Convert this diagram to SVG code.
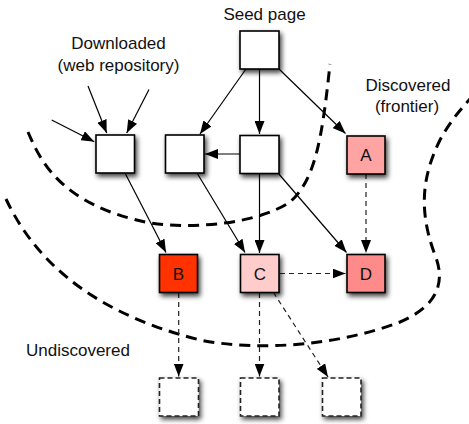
<svg xmlns="http://www.w3.org/2000/svg" width="469" height="424" viewBox="0 0 469 424">
<defs>
<filter id="sh" x="-30%" y="-30%" width="170%" height="170%">
<feDropShadow dx="2" dy="3" stdDeviation="2.5" flood-color="#000" flood-opacity="0.75"/>
</filter>
<marker id="ah" markerWidth="13" markerHeight="10" refX="13" refY="5" orient="auto" markerUnits="userSpaceOnUse">
<path d="M0,0 L13,5 L0,10 Z" fill="#000"/>
</marker>
</defs>
<style>
text{font-family:"Liberation Sans",Arial,sans-serif;font-size:17px;fill:#111}
.lbl{text-anchor:middle}
.box{stroke:#000;stroke-width:1.6}
.ghost{fill:#fff;stroke:#222;stroke-width:1.6;stroke-dasharray:5 3}
.solid{fill:none;stroke:#000;stroke-width:1.2}
.dash{fill:none;stroke:#222;stroke-width:1.2;stroke-dasharray:5 4}
.bound{fill:none;stroke:#000;stroke-width:3;stroke-dasharray:11 7}
</style>
<rect width="469" height="424" fill="#fff"/>
<g id="boundaries">
<path class="bound" d="M28,132 C40,160 60,205 150,223 C200,230 260,222 290,202 C315,180 322,140 330,64"/>
<path class="bound" d="M6,199 C30,250 80,310 200,340 C260,352 340,345 400,322 C440,305 445,280 435,255 C420,215 420,180 440,140 C448,125 458,112 470,99"/>
</g>
<g id="labels">
<text x="264.5" y="19.5" class="lbl">Seed page</text>
<text x="118.5" y="49" class="lbl">Downloaded</text>
<text x="118.5" y="70.5" class="lbl">(web repository)</text>
<text x="408" y="91" class="lbl">Discovered</text>
<text x="407" y="112" class="lbl">(frontier)</text>
<text x="26" y="356">Undiscovered</text>
</g>
<g id="connectors">
<line class="solid" x1="88" y1="86" x2="106.7" y2="133" marker-end="url(#ah)"/>
<line class="solid" x1="149" y1="89.5" x2="126.7" y2="133" marker-end="url(#ah)"/>
<line class="solid" x1="51.7" y1="120" x2="94.3" y2="141.7" marker-end="url(#ah)"/>
<line class="solid" x1="246" y1="69" x2="200" y2="134" marker-end="url(#ah)"/>
<line class="solid" x1="240" y1="154" x2="205" y2="154" marker-end="url(#ah)"/>
<line class="solid" x1="259.5" y1="69" x2="259.5" y2="134" marker-end="url(#ah)"/>
<line class="solid" x1="279" y1="69" x2="345.5" y2="133.5" marker-end="url(#ah)"/>
<line class="solid" x1="125" y1="173" x2="166" y2="252.5" marker-end="url(#ah)"/>
<line class="solid" x1="197" y1="173" x2="245" y2="252.5" marker-end="url(#ah)"/>
<line class="solid" x1="259.5" y1="174" x2="259.5" y2="253" marker-end="url(#ah)"/>
<line class="solid" x1="278" y1="173" x2="346.5" y2="252.5" marker-end="url(#ah)"/>
<line class="dash" x1="366" y1="174" x2="366" y2="253" marker-end="url(#ah)"/>
<line class="dash" x1="280" y1="273.5" x2="345.5" y2="273.5" marker-end="url(#ah)"/>
<line class="dash" x1="178.7" y1="293" x2="178.7" y2="376.5" marker-end="url(#ah)"/>
<line class="dash" x1="259.5" y1="293" x2="259.5" y2="376.5" marker-end="url(#ah)"/>
<line class="dash" x1="273.5" y1="292.5" x2="328" y2="377" marker-end="url(#ah)"/>
</g>
<g id="seed"><rect class="box" x="240" y="31" width="39" height="38" fill="#fff" filter="url(#sh)"/></g>
<g id="downloaded1"><rect class="box" x="96" y="135" width="38.5" height="38" fill="#fff" filter="url(#sh)"/></g>
<g id="downloaded2"><rect class="box" x="165.5" y="135" width="38.5" height="38" fill="#fff" filter="url(#sh)"/></g>
<g id="downloaded3"><rect class="box" x="240" y="135.5" width="39" height="38" fill="#fff" filter="url(#sh)"/></g>
<g id="nodeA"><rect class="box" x="347" y="136" width="38" height="38" fill="#ffa3a3" filter="url(#sh)"/><text x="366" y="161" class="lbl">A</text></g>
<g id="nodeB"><rect class="box" x="159.5" y="254.5" width="38" height="38" fill="#ff3300" filter="url(#sh)"/><text x="178.5" y="280" class="lbl">B</text></g>
<g id="nodeC"><rect class="box" x="240.5" y="254.5" width="38.5" height="38" fill="#ffcccc" filter="url(#sh)"/><text x="259.8" y="280" class="lbl">C</text></g>
<g id="nodeD"><rect class="box" x="347" y="254.5" width="38" height="38" fill="#ff8a8a" filter="url(#sh)"/><text x="366" y="280" class="lbl">D</text></g>
<g id="undiscovered1"><rect class="ghost" x="159.5" y="378" width="39" height="38" filter="url(#sh)"/></g>
<g id="undiscovered2"><rect class="ghost" x="240.5" y="378" width="38.5" height="38" filter="url(#sh)"/></g>
<g id="undiscovered3"><rect class="ghost" x="322.5" y="378" width="38.5" height="38" filter="url(#sh)"/></g>
</svg>
